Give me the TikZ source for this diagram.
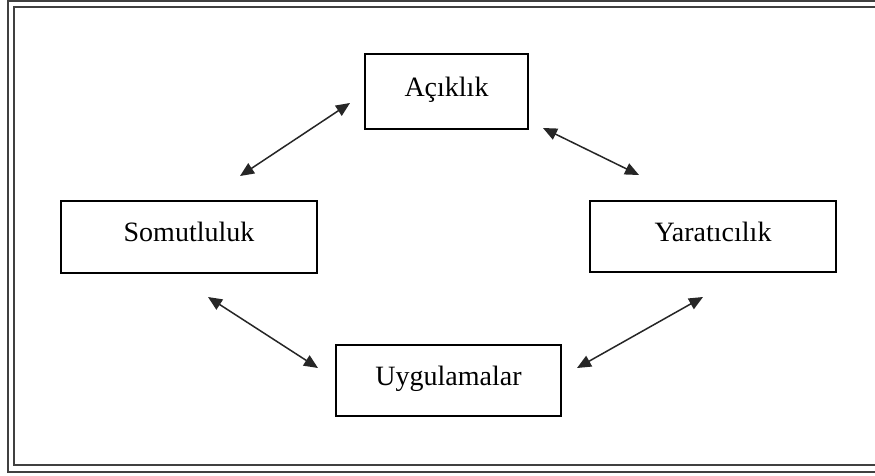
\documentclass[tikz,border=0pt]{standalone}
\usepackage{fontspec}
\setmainfont{Liberation Serif}
\usetikzlibrary{arrows.meta}
\tikzset{
  box/.style={draw=black, line width=1.4pt, rectangle, inner sep=0pt,
    font=\fontsize{28}{32}\selectfont, text height=15pt, text depth=6pt},
  link/.style={draw=black!85, line width=1.5pt,
    {Triangle[length=14pt,width=12pt]}-{Triangle[length=14pt,width=12pt]}},
  frame/.style={draw=black!75, line width=2.4pt}
}
\begin{document}
\begin{tikzpicture}[x=1pt,y=-1pt]
\useasboundingbox (0,0) rectangle (875,475);
\fill[white] (0,0) rectangle (875,475);
% double frame
\draw[frame] (885,1) -| (8,472) -- (885,472);
\draw[frame] (885,7) -| (14,465) -- (885,465);
% boxes
\node[box, minimum width=163pt, minimum height=75pt] (a) at (446.5,91.5) {Açıklık};
\node[box, minimum width=256pt, minimum height=72pt] (s) at (189,237) {Somutluluk};
\node[box, minimum width=246pt, minimum height=71pt] (y) at (713,236.5) {Yaratıcılık};
\node[box, minimum width=225pt, minimum height=71pt] (u) at (448.5,380.5) {Uygulamalar};
% arrow ends
\coordinate (as1) at (240,176);
\coordinate (as2) at (350,103);
\coordinate (ay1) at (543,128);
\coordinate (ay2) at (639,175);
\coordinate (su1) at (208,297);
\coordinate (su2) at (318,368);
\coordinate (yu1) at (703,297);
\coordinate (yu2) at (577,368);
\draw[link] (as1) -- (as2);
\draw[link] (ay1) -- (ay2);
\draw[link] (su1) -- (su2);
\draw[link] (yu1) -- (yu2);
\end{tikzpicture}
\end{document}
